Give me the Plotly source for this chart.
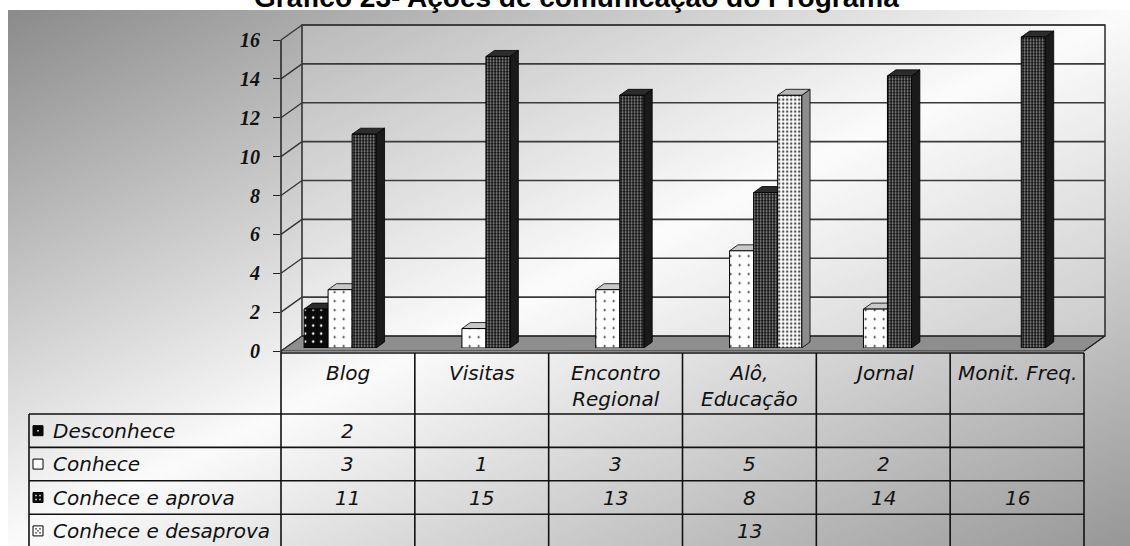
import base64, struct, zlib
import numpy as np
import plotly.graph_objects as go

# ---------------- data ----------------
categories = ["Blog", "Visitas", "Encontro Regional", "Alô, Educação", "Jornal", "Monit. Freq."]
category_labels = ["Blog", "Visitas", "Encontro<br>Regional", "Alô,<br>Educação", "Jornal", "Monit. Freq."]
series_names = ["Desconhece", "Conhece", "Conhece e aprova", "Conhece e desaprova"]
desconhece = [2, None, None, None, None, None]
conhece = [3, 1, 3, 5, 2, None]
conhece_aprova = [11, 15, 13, 8, 14, 16]
conhece_desaprova = [None, None, None, 13, None, None]
y_ticks = [0, 2, 4, 6, 8, 10, 12, 14, 16]
title_text = "Gráfico 23- Ações de comunicação do Programa"

series_values = [desconhece, conhece, conhece_aprova, conhece_desaprova]

# ---------------- geometry (pixels) ----------------
W, H = 1130, 546
FX0, FX1 = 281, 1084          # front plane x extent
FY0 = 351                     # front plane y of value 0
YMAX = 16
PXU = (FY0 - 40) / YMAX       # px per unit
DX, DY = 21, -15              # full depth offset
BF0, BF1 = 0.2, 0.6           # bar depth (fractions)
BARGAP = 0.282
NCAT = len(categories)
CATW = (FX1 - FX0) / NCAT


def px(x):
    return x / W


def py(y):
    return 1 - y / H


# ---------------- background gradient image ----------------
def png_gray(arr):
    h, w = arr.shape
    raw = b"".join(b"\x00" + arr[r].astype(np.uint8).tobytes() for r in range(h))

    def chunk(t, d):
        c = struct.pack(">I", len(d)) + t + d
        return c + struct.pack(">I", zlib.crc32(t + d) & 0xFFFFFFFF)

    return (b"\x89PNG\r\n\x1a\n"
            + chunk(b"IHDR", struct.pack(">IIBBBBB", w, h, 8, 0, 0, 0, 0))
            + chunk(b"IDAT", zlib.compress(raw, 9))
            + chunk(b"IEND", b""))


gw, gh = 281, 134
uu, vv = np.meshgrid(np.linspace(0, 1, gw), np.linspace(0, 1, gh))
tt = (uu + vv) / 2
grad = np.where(tt < 0.5, 140 + 112 * (tt / 0.5), 252 - 100 * ((tt - 0.5) / 0.5))
grad = np.clip(grad, 0, 255)
img_src = "data:image/png;base64," + base64.b64encode(png_gray(grad)).decode()

# ---------------- figure ----------------
fig = go.Figure()

patterns = [
    dict(shape=".", bgcolor="#0a0a0a", fgcolor="#ffffff", size=8, solidity=0.08, fillmode="replace"),
    dict(shape=".", bgcolor="#ffffff", fgcolor="#111111", size=9, solidity=0.04, fillmode="replace"),
    dict(shape=".", bgcolor="#0d0d0d", fgcolor="#b0b0b0", size=3, solidity=0.3, fillmode="replace"),
    dict(shape=".", bgcolor="#ffffff", fgcolor="#505050", size=4, solidity=0.3, fillmode="replace"),
]
side_colors = ["#111111", "#9a9a9a", "#1a1a1a", "#8c8c8c"]
top_colors = ["#2c2c2c", "#c8c8c8", "#2c2c2c", "#b8b8b8"]

xs = list(range(NCAT))
for name, vals, pat in zip(series_names, series_values, patterns):
    fig.add_trace(go.Bar(
        x=xs, y=vals, name=name,
        marker=dict(color=pat["bgcolor"], pattern=pat, line=dict(color="#000000", width=1)),
        xaxis="x", yaxis="y", showlegend=False, hoverinfo="skip",
    ))

# invisible trace for front tick axis
fig.add_trace(go.Scatter(x=[None], y=[None], xaxis="x2", yaxis="y2", showlegend=False, hoverinfo="skip"))

shapes = []
line_dark = "#2a2a2a"

# floor
shapes.append(dict(type="path", xref="paper", yref="paper", layer="below",
                   path=f"M{px(FX0)},{py(FY0)} L{px(FX1)},{py(FY0)} L{px(FX1+DX)},{py(FY0+DY)} L{px(FX0+DX)},{py(FY0+DY)} Z",
                   fillcolor="#8e8e8e", line=dict(color=line_dark, width=1)))
# back wall
wall_top = FY0 + DY - YMAX * PXU
shapes.append(dict(type="rect", xref="paper", yref="paper", layer="below",
                   x0=px(FX0 + DX), x1=px(FX1 + DX), y0=py(FY0 + DY), y1=py(wall_top),
                   fillcolor="rgba(255,255,255,0.18)", line=dict(color=line_dark, width=1.5)))
# gridlines on back wall + side wall diagonals
for v in y_ticks:
    yb = FY0 + DY - v * PXU
    yf = FY0 - v * PXU
    if v > 0:
        shapes.append(dict(type="line", xref="paper", yref="paper", layer="below",
                           x0=px(FX0 + DX), x1=px(FX1 + DX), y0=py(yb), y1=py(yb),
                           line=dict(color="#3a3a3a", width=1.6)))
    shapes.append(dict(type="line", xref="paper", yref="paper", layer="below",
                       x0=px(FX0), x1=px(FX0 + DX), y0=py(yf), y1=py(yb),
                       line=dict(color="#333333", width=1.3)))
# left front edge
shapes.append(dict(type="line", xref="paper", yref="paper", layer="below",
                   x0=px(FX0), x1=px(FX0), y0=py(FY0 - YMAX * PXU), y1=py(FY0),
                   line=dict(color="#222222", width=1.5)))
# right floor edge
shapes.append(dict(type="line", xref="paper", yref="paper", layer="below",
                   x0=px(FX1), x1=px(FX1 + DX), y0=py(FY0), y1=py(FY0 + DY),
                   line=dict(color="#222222", width=1.2)))

# bar 3D faces (data coordinates)
nser = len(series_values)
gwid = 1 - BARGAP
bw = gwid / nser
ddx = (BF1 - BF0) * DX / CATW
ddy = -(BF1 - BF0) * DY / PXU
for k, vals in enumerate(series_values):
    for i, v in enumerate(vals):
        if v is None:
            continue
        left = i - gwid / 2 + k * bw
        right = left + bw
        shapes.append(dict(type="path", xref="x", yref="y", layer="below",
                           path=f"M{right},0 L{right+ddx},{ddy} L{right+ddx},{v+ddy} L{right},{v} Z",
                           fillcolor=side_colors[k], line=dict(color="#000000", width=0.8)))
        shapes.append(dict(type="path", xref="x", yref="y", layer="below",
                           path=f"M{left},{v} L{left+ddx},{v+ddy} L{right+ddx},{v+ddy} L{right},{v} Z",
                           fillcolor=top_colors[k], line=dict(color="#000000", width=0.8)))

# ---------------- data table ----------------
TL = 29
HEAD_TOP, HEAD_BOT = FY0 + 2, 414
ROW_H = 33.4
row_edges = [HEAD_BOT + r * ROW_H for r in range(nser + 1)]
tbl_line = dict(color="#111111", width=1.6)
shapes.append(dict(type="line", xref="paper", yref="paper", x0=px(FX0), x1=px(FX1),
                   y0=py(HEAD_TOP), y1=py(HEAD_TOP), line=tbl_line))
for ye in row_edges:
    shapes.append(dict(type="line", xref="paper", yref="paper", x0=px(TL), x1=px(FX1),
                       y0=py(ye), y1=py(ye), line=tbl_line))
shapes.append(dict(type="line", xref="paper", yref="paper", x0=px(TL), x1=px(TL),
                   y0=py(HEAD_BOT), y1=0, line=tbl_line))
for c in range(NCAT + 1):
    xc = FX0 + c * CATW
    shapes.append(dict(type="line", xref="paper", yref="paper", x0=px(xc), x1=px(xc),
                       y0=py(HEAD_TOP if c else FY0), y1=0, line=tbl_line))

annotations = []
tfont = dict(family="DejaVu Sans", size=20, color="#111111", style="italic")
for c, lab in enumerate(category_labels):
    annotations.append(dict(xref="paper", yref="paper", x=px(FX0 + (c + 0.5) * CATW), y=py(HEAD_TOP + 6),
                            xanchor="center", yanchor="top", text=lab, showarrow=False, font=tfont,
                            align="center"))
for r, (name, vals) in enumerate(zip(series_names, series_values)):
    yc = (row_edges[r] + row_edges[r + 1]) / 2
    annotations.append(dict(xref="paper", yref="paper", x=px(51), y=py(yc), xanchor="left",
                            yanchor="middle", text=name, showarrow=False, font=tfont))
    for c, v in enumerate(vals):
        if v is None:
            continue
        annotations.append(dict(xref="paper", yref="paper", x=px(FX0 + (c + 0.5) * CATW), y=py(yc),
                                xanchor="center", yanchor="middle", text=str(v), showarrow=False,
                                font=tfont))
    # legend key squares
    kx0, kx1 = 33, 43
    ky0, ky1 = yc - 5, yc + 5
    fillk = ["#0a0a0a", "#ffffff", "#0a0a0a", "#ffffff"][r]
    shapes.append(dict(type="rect", xref="paper", yref="paper", x0=px(kx0), x1=px(kx1),
                       y0=py(ky1), y1=py(ky0), fillcolor=fillk, line=dict(color="#000000", width=1)))
    dots = {0: [(38, 0)], 2: [(36, -2), (40, -2), (36, 2), (40, 2)],
            3: [(36, -2), (40, -2), (36, 2), (40, 2), (38, 0)]}.get(r, [])
    for dxp, dyp in dots:
        shapes.append(dict(type="rect", xref="paper", yref="paper", x0=px(dxp - 0.7), x1=px(dxp + 0.7),
                           y0=py(yc + dyp + 0.7), y1=py(yc + dyp - 0.7),
                           fillcolor="#ffffff" if r in (0, 2) else "#000000", line=dict(width=0)))

# title (partly cut off at top, as in the reference)
annotations.append(dict(xref="paper", yref="paper", x=px(576), y=py(15), xanchor="center", yanchor="bottom",
                        text=f"<b>{title_text}</b>", showarrow=False,
                        font=dict(family="Liberation Sans", size=28, color="#000000")))

bar_y0 = FY0 + BF0 * DY
bar_x0 = FX0 + BF0 * DX
YR = 17
fig.update_layout(
    template="none",
    width=W, height=H, margin=dict(l=0, r=0, t=0, b=0, pad=0, autoexpand=False),
    paper_bgcolor="#ffffff", plot_bgcolor="rgba(0,0,0,0)",
    barmode="group", bargap=BARGAP, bargroupgap=0, showlegend=False,
    xaxis=dict(domain=[px(bar_x0), px(bar_x0 + NCAT * CATW)], range=[-0.5, NCAT - 0.5],
               visible=False, anchor="y", automargin=False),
    yaxis=dict(domain=[py(bar_y0), py(bar_y0 - YR * PXU)], range=[0, YR], visible=False, anchor="x",
               automargin=False),
    xaxis2=dict(domain=[px(FX0), px(FX1)], range=[0, 1], visible=False, anchor="y2", automargin=False),
    yaxis2=dict(domain=[py(FY0), py(FY0 - YMAX * PXU)], range=[0, YMAX], anchor="x2",
                tickvals=y_ticks, ticktext=[str(t) for t in y_ticks], automargin=False,
                ticks="outside", ticklen=7, tickwidth=1.4, tickcolor="#222222",
                ticklabelstandoff=9, showgrid=False, zeroline=False, showline=False,
                tickfont=dict(family="Liberation Serif", size=20, color="#111111",
                              weight="bold", style="italic")),
    shapes=shapes, annotations=annotations,
    images=[dict(source=img_src, xref="paper", yref="paper", x=px(8), y=py(10),
                 sizex=px(W - 8), sizey=(H - 10) / H, xanchor="left", yanchor="top",
                 sizing="stretch", layer="below")],
)

fig.write_html("out.html")
